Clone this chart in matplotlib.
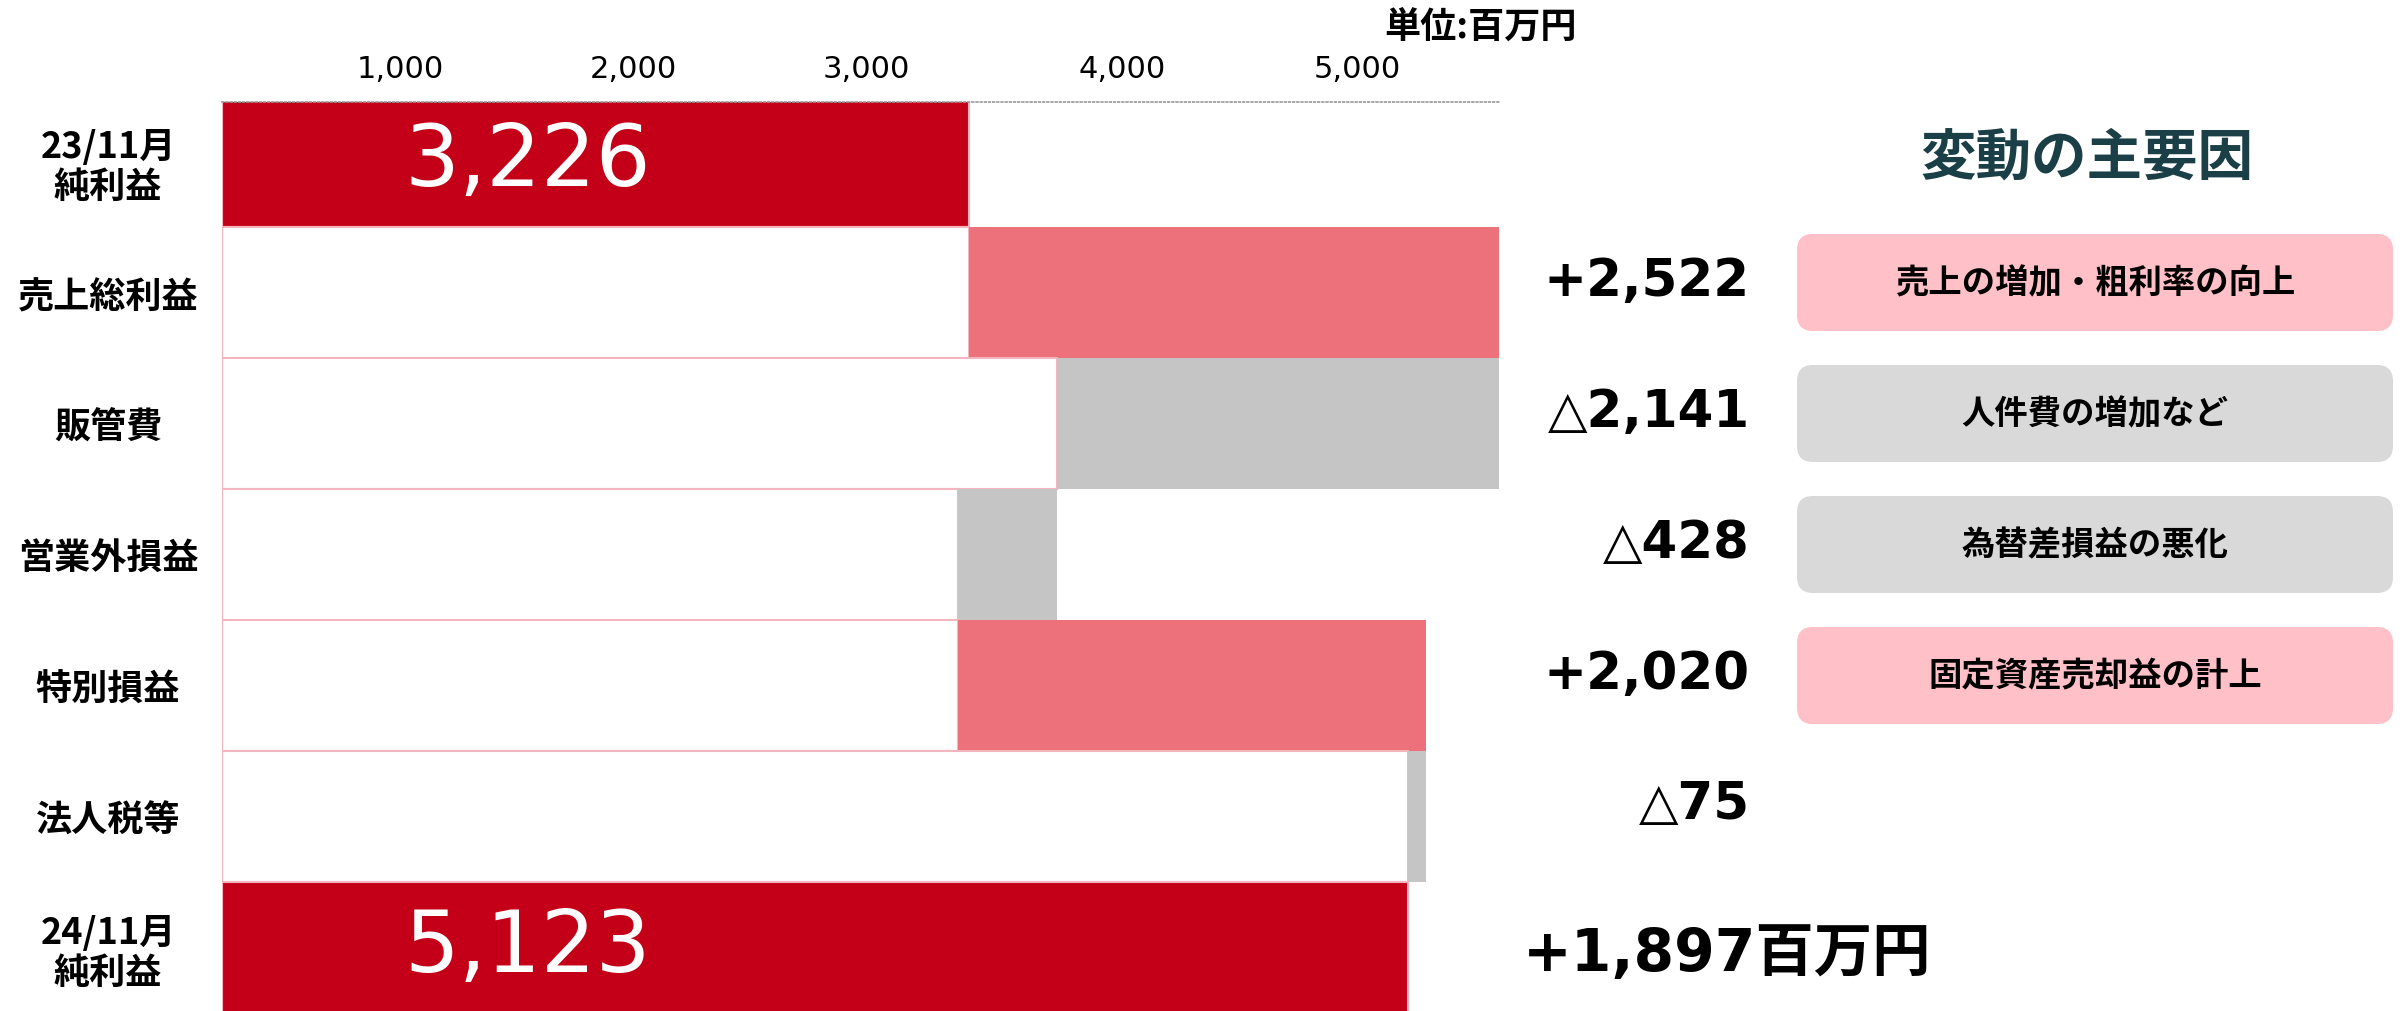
import matplotlib
matplotlib.use('Agg')
import matplotlib.pyplot as plt
from matplotlib.patches import FancyBboxPatch

# ---------------- data ----------------
categories = ['23/11月\n純利益', '売上総利益', '販管費', '営業外損益', '特別損益', '法人税等', '24/11月\n純利益']
start_value = 3226
deltas = [2522, -2141, -428, 2020, -75]
end_value = 5123
start_label = '3,226'
end_label = '5,123'
change_labels = ['+2,522', '△2,141', '△428', '+2,020', '△75']
total_change_label = '+1,897百万円'
reasons = ['売上の増加・粗利率の向上', '人件費の増加など', '為替差損益の悪化', '固定資産売却益の計上']
reason_kinds = ['up', 'down', 'down', 'up']
tick_positions = [770, 1775, 2785, 3890, 4905]
tick_labels = ['1,000', '2,000', '3,000', '4,000', '5,000']
unit_label = '単位:百万円'
title = '変動の主要因'

# ---------------- style ----------------
RED = '#C40018'
PINK = '#EC717A'
GREY = '#C5C5C5'
EDGE = '#F4B6BE'
BOX_PINK = '#FFC0C7'
BOX_GREY = '#D9D9D9'
TITLE_C = '#1B3F47'
JP = ['Noto Sans CJK JP', 'DejaVu Sans']
NUM = ['DejaVu Sans', 'Noto Sans CJK JP']
plt.rcParams['font.family'] = JP

W, H = 2405, 1012
fig = plt.figure(figsize=(W / 100, H / 100), dpi=100)
ax_left, ax_right, ax_top = 222, 1499, 103
row0_top, pitch = 97, 131
ax = fig.add_axes([ax_left / W, 0, (ax_right - ax_left) / W, (H - ax_top) / H])
scale = 0.2315  # px per unit
ax.set_xlim(0, (ax_right - ax_left) / scale)
ax.set_ylim((H - row0_top) / pitch - 0.5, (ax_top - row0_top) / pitch - 0.5)

# waterfall
ax.barh(0, start_value, height=1.0, color=RED, edgecolor=EDGE, linewidth=1.5, zorder=2)
cur = start_value
for i, d in enumerate(deltas, start=1):
    new = cur + d
    base = min(cur, new)
    ax.barh(i, base, height=1.0, color='white', edgecolor=EDGE, linewidth=1.5, zorder=2)
    ax.barh(i, abs(d), left=base, height=1.0, color=PINK if d > 0 else GREY,
            edgecolor='none', zorder=2)
    cur = new
ax.barh(len(categories) - 1, end_value, height=1.0, color=RED, edgecolor=EDGE,
        linewidth=1.5, zorder=2)

LABEL_X = 1320
ax.text(LABEL_X, 0, start_label, color='white', fontsize=62, ha='center', va='center',
        family=NUM, zorder=3)
ax.text(LABEL_X, len(categories) - 1, end_label, color='white', fontsize=62, ha='center',
        va='center', family=NUM, zorder=3)

# axes styling
for s in ['left', 'right', 'bottom']:
    ax.spines[s].set_visible(False)
ax.spines['top'].set_color('#9A9A9A')
ax.spines['top'].set_linestyle((0, (1, 1.5)))
ax.spines['top'].set_linewidth(1.2)
ax.spines['top'].set_zorder(5)
ax.xaxis.tick_top()
ax.set_xticks(tick_positions)
ax.set_xticklabels(tick_labels, fontsize=22, family=NUM)
ax.tick_params(axis='x', length=0, pad=14)
ax.set_yticks(range(len(categories)))
ax.set_yticklabels(categories, fontsize=26, fontweight='bold', ha='center',
                   linespacing=1.1)
ax.tick_params(axis='y', length=0, pad=82)

# overlay in pixel coordinates
ov = fig.add_axes([0, 0, 1, 1])
ov.set_xlim(0, W)
ov.set_ylim(H, 0)
ov.axis('off')

def row_c(i):
    return row0_top + pitch * (i + 0.5)

ov.text(1481, 27, unit_label, fontsize=26, fontweight='bold', ha='center', va='center')
ov.text(2087, 159, title, fontsize=40, fontweight='bold', color=TITLE_C, ha='center',
        va='center')

for i, lab in enumerate(change_labels, start=1):
    ov.text(1750, row_c(i) - 12, lab, fontsize=37, fontweight='bold', family=NUM,
            ha='right', va='center')

for i, (r, k) in enumerate(zip(reasons, reason_kinds), start=1):
    yc = row_c(i) - 10
    box = FancyBboxPatch((1797, yc - 48.5), 596, 97,
                         boxstyle='round,pad=0,rounding_size=16',
                         fc=BOX_PINK if k == 'up' else BOX_GREY, ec='none')
    ov.add_patch(box)
    ov.text(2095, yc, r, fontsize=24, fontweight='bold', ha='center', va='center')

ov.text(1523, row_c(6) + 6, total_change_label, fontsize=42, fontweight='bold',
        family=NUM, ha='left', va='center')

fig.savefig('out.png', dpi=100)
